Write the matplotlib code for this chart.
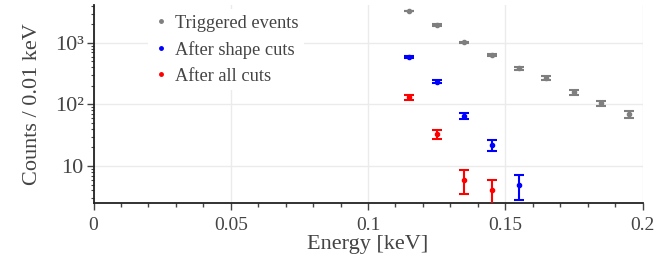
import numpy as np
import matplotlib
matplotlib.use("Agg")
import matplotlib.pyplot as plt
from matplotlib.lines import Line2D
from matplotlib.ticker import FixedLocator, LogLocator, NullFormatter, MultipleLocator

# bin centres [keV] and counts per 0.01 keV
e_trig = [0.115, 0.125, 0.135, 0.145, 0.155, 0.165, 0.175, 0.185, 0.195]
n_trig = [3300, 1950, 1020, 640, 390, 270, 157, 104, 69]
err_trig = [57, 44, 32, 25, 20, 16, 12.5, 10.2, 8.3]

e_shape = [0.115, 0.125, 0.135, 0.145, 0.155]
n_shape = [590, 235, 65, 22, 5]
err_shape = [24, 15, 8, 4.7, 2.24]

e_all = [0.115, 0.125, 0.135, 0.145]
n_all = [130, 33, 6, 4]
err_all = [11.4, 5.7, 2.45, 2.0]

xticks = [0, 0.05, 0.1, 0.15, 0.2]
xticklabels = ["0", "0.05", "0.1", "0.15", "0.2"]
yticks = [10, 100, 1000]
yticklabels = ["10", "10²", "10³"]

plt.rcParams["font.family"] = ["Liberation Serif", "DejaVu Serif"]
txt = "#444444"

fig = plt.figure(figsize=(6.7, 2.58), dpi=100)
ax = fig.add_axes([0.1396, 0.213, 0.8194, 0.768])

series = [
    (e_trig, n_trig, err_trig, "#7f7f7f", "Triggered events"),
    (e_shape, n_shape, err_shape, "#0000ff", "After shape cuts"),
    (e_all, n_all, err_all, "#ff0000", "After all cuts"),
]
handles = []
for x, y, err, c, lab in series:
    ax.errorbar(x, y, yerr=err, fmt="o", color=c, ms=3, elinewidth=1.5,
                capsize=3.5, capthick=1.5, zorder=3)
    handles.append(Line2D([], [], ls="none", marker="o", ms=2.5, color=c, label=lab))

ax.set_yscale("log")
ax.set_xlim(0, 0.2)
ax.set_ylim(2.5, 4150)

ax.xaxis.set_major_locator(FixedLocator(xticks))
ax.set_xticklabels(xticklabels)
ax.xaxis.set_minor_locator(MultipleLocator(0.01))
ax.yaxis.set_major_locator(FixedLocator(yticks))
ax.set_yticklabels(yticklabels)
ax.yaxis.set_minor_locator(LogLocator(base=10, subs=np.arange(2, 10)))
ax.yaxis.set_minor_formatter(NullFormatter())

ax.grid(True, which="major", color="#ebebeb", lw=1)
ax.set_axisbelow(True)
for s in ["top", "right"]:
    ax.spines[s].set_visible(False)
for s in ["left", "bottom"]:
    ax.spines[s].set_linewidth(1.3)
    ax.spines[s].set_color("#222222")

ax.tick_params(axis="x", which="major", length=5, width=1, colors="#444444",
               labelsize=14, pad=5, labelcolor=txt)
ax.tick_params(axis="x", which="minor", length=3, width=1, colors="#444444")
ax.tick_params(axis="y", which="major", length=5, width=1, colors="#444444",
               labelsize=16, pad=2, labelcolor=txt)
ax.tick_params(axis="y", which="minor", length=2.5, width=0.8, colors="#444444")

ax.set_xlabel("Energy [keV]", fontsize=16, color=txt, labelpad=1)
ax.set_ylabel("Counts / 0.01 keV", fontsize=16, color=txt, labelpad=9)

leg = ax.legend(handles=handles, loc="upper left", bbox_to_anchor=(0.082, 1.025),
                frameon=True, fontsize=13.2, handletextpad=0.3, handlelength=0.9,
                labelspacing=0.5, borderpad=0.3)
leg.get_frame().set_edgecolor("none")
leg.get_frame().set_facecolor("white")
leg.get_frame().set_alpha(1)
for t in leg.get_texts():
    t.set_color(txt)

fig.savefig("out.png", dpi=100)
